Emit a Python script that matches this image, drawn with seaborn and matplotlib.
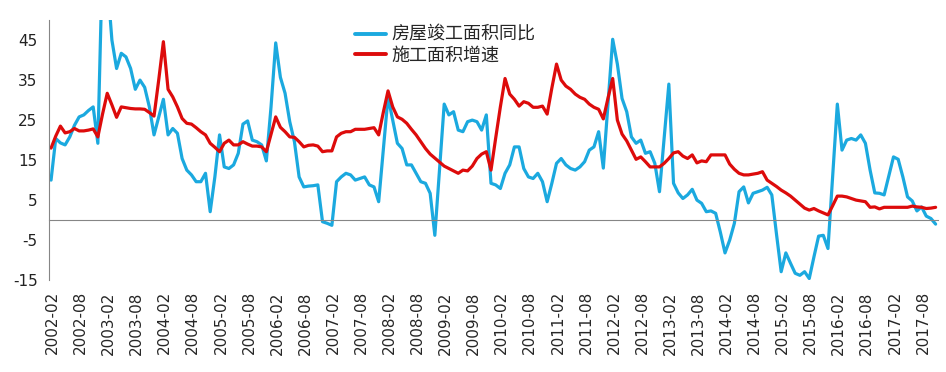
import matplotlib
matplotlib.use('Agg')
import matplotlib.pyplot as plt
import numpy as np
import pandas as pd
import seaborn as sns

# monthly data, 2002-02 .. 2017-11
months = pd.period_range('2002-02', '2017-11', freq='M')

completed_yoy = [
    10, 20.4, 19.3, 18.8, 20.8, 23.7, 25.8, 26.3, 27.4, 28.3,
    19.2, 66, 60, 45, 37.9, 41.7, 40.8, 37.9, 32.7, 35,
    33.2, 28.3, 21.3, 25.8, 30.2, 21.3, 22.9, 21.7, 15.4, 12.5,
    11.3, 9.6, 9.6, 11.7, 2.1, 10.8, 21.3, 13.3, 12.9, 13.8,
    16.7, 24, 24.8, 20, 19.6, 18.8, 14.8, 28.3, 44.3, 35.7,
    31.7, 24.6, 19.6, 10.8, 8.3, 8.5, 8.6, 8.8, -0.4, -0.8,
    -1.3, 9.6, 10.8, 11.7, 11.3, 10, 10.4, 10.8, 8.8, 8.3,
    4.6, 17.7, 30.8, 25, 19.2, 17.9, 13.8, 13.8, 11.7, 9.6,
    9.2, 6.7, -3.8, 12.5, 29, 26.3, 27.1, 22.5, 22.1, 24.6,
    25, 24.6, 22.5, 26.3, 9.2, 8.8, 7.9, 11.7, 13.8, 18.3,
    18.3, 12.9, 10.8, 10.4, 11.7, 9.6, 4.6, 9.2, 14.2, 15.4,
    13.8, 12.9, 12.5, 13.3, 14.6, 17.5, 18.3, 22.1, 13, 29,
    45.2, 39, 30.4, 27.1, 20.8, 19.2, 20, 16.7, 17.1, 14.2,
    7.1, 20.5, 34, 9.2, 6.8, 5.4, 6.3, 7.7, 5, 4.2,
    2.1, 2.3, 1.7, -3, -8.2, -5, -0.8, 7.1, 8.3, 4.3,
    6.7, 7.1, 7.5, 8.2, 6.3, -3.5, -12.9, -8.2, -10.8, -13.3,
    -13.8, -12.9, -14.6, -9.2, -4, -3.8, -7.1, 11, 29, 17.5,
    20, 20.4, 20, 21.3, 19.2, 12.5, 6.8, 6.7, 6.3, 11,
    15.8, 15.2, 10.8, 5.8, 4.8, 2.3, 3.3, 1, 0.4, -1,
]

construction_growth = [
    18, 21, 23.5, 21.8, 22.1, 22.9, 22.3, 22.3, 22.5, 22.8,
    20.8, 26.5, 31.7, 28.8, 25.7, 28.3, 28.1, 27.9, 27.8, 27.8,
    27.7, 26.9, 26, 35, 44.6, 32.7, 30.8, 28.3, 25.4, 24.2,
    24, 23.1, 22.1, 21.3, 19.2, 18.2, 17.1, 19.2, 20, 18.8,
    18.8, 19.6, 19, 18.5, 18.5, 18.3, 17.1, 21.5, 25.8, 23.2,
    22.1, 20.8, 20.7, 19.6, 18.3, 18.7, 18.8, 18.5, 17.1, 17.3,
    17.3, 20.8, 21.7, 22.1, 22.1, 22.7, 22.7, 22.7, 22.9, 23.1,
    21.3, 27, 32.3, 28.3, 25.8, 25.2, 24.2, 22.7, 21.3, 19.6,
    17.9, 16.5, 15.5, 14.5, 13.5, 12.9, 12.3, 11.7, 12.5, 12.3,
    13.5, 15.4, 16.5, 17.1, 12.5, 20.5, 28.3, 35.4, 31.5, 30.2,
    28.5, 29.6, 29.2, 28.2, 28.2, 28.5, 26.5, 33, 39, 35,
    33.5, 32.7, 31.5, 30.7, 30.2, 29, 28.2, 27.7, 25.3, 30.5,
    35.4, 25, 21.5, 19.8, 17.5, 15.2, 15.8, 14.6, 13.3, 13.3,
    13.3, 14.2, 15.4, 16.8, 17.1, 16, 15.4, 16.3, 14.3, 14.8,
    14.6, 16.3, 16.3, 16.3, 16.3, 14, 12.7, 11.7, 11.3, 11.3,
    11.5, 11.7, 12.1, 10, 9.2, 8.4, 7.5, 6.8, 6, 5,
    4, 3, 2.5, 2.9, 2.3, 1.8, 1.3, 3.6, 6, 6,
    5.8, 5.4, 5, 4.8, 4.6, 3.2, 3.3, 2.8, 3.2, 3.2,
    3.2, 3.2, 3.2, 3.2, 3.5, 3.3, 3.2, 2.9, 3, 3.2,
]

series_names = ['房屋竣工面积同比', '施工面积增速']
colors = ['#1ba9df', '#dd0b0b']
y_ticks = [-15, -5, 5, 15, 25, 35, 45]

tick_months = months[::6]
tick_labels = [p.strftime('%Y-%m') for p in tick_months]

# month index on x, each point centred in its month
pos = np.arange(len(months)) + 0.5
df = pd.DataFrame({
    'pos': np.concatenate([pos, pos]),
    'value': completed_yoy + construction_growth,
    'series': [series_names[0]] * len(months) + [series_names[1]] * len(months),
})

sns.set_style('white')
plt.rcParams['font.family'] = ['DejaVu Sans', 'Noto Sans CJK SC']
plt.rcParams['axes.unicode_minus'] = False

fig = plt.figure(figsize=(9.46, 3.72), dpi=100)
ax = fig.add_axes([0.0515, 0.247, 0.94, 0.699])

sns.lineplot(data=df, x='pos', y='value', hue='series', hue_order=series_names,
             palette=colors, linewidth=2.3, ax=ax, legend=False)

ax.set_xlim(0, len(months))
ax.set_ylim(-15, 50)
ax.set_xlabel('')
ax.set_ylabel('')

axis_gray = '#868686'
for s in ['top', 'right']:
    ax.spines[s].set_visible(False)
ax.spines['left'].set_color(axis_gray)
ax.spines['bottom'].set_position(('data', 0))
ax.spines['bottom'].set_color(axis_gray)

tick_idx = np.arange(0, len(months), 6)
ax.set_xticks(tick_idx)
ax.tick_params(axis='x', direction='out', length=4, color=axis_gray, labelbottom=False)
ax.set_yticks(y_ticks)
ax.tick_params(axis='y', direction='out', length=4, color=axis_gray,
               labelsize=11, labelcolor='#222222', pad=4)

# labels sit below the plot, not at the zero line
sec = ax.secondary_xaxis('bottom')
sec.set_xticks(tick_idx + 0.8)
sec.set_xticklabels(tick_labels, rotation=90, fontsize=11)
sec.tick_params(length=0, pad=8)
sec.spines['bottom'].set_visible(False)

handles = [plt.Line2D([], [], color=c, linewidth=2.8) for c in colors]
ax.legend(handles, series_names, loc='upper left', bbox_to_anchor=(0.326, 1.04),
          frameon=False, handlelength=1.7, handletextpad=0.3, labelspacing=0.15,
          prop={'family': ['Noto Sans CJK SC'], 'size': 13})

fig.savefig('out.png', dpi=100)
